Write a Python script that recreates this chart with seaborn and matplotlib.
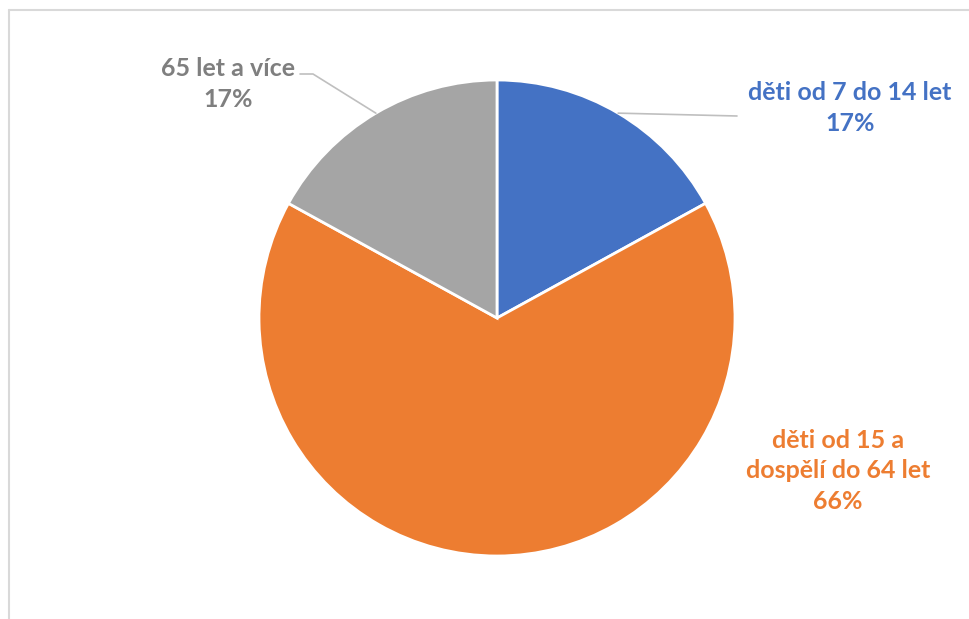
import numpy as np
import matplotlib.pyplot as plt
import seaborn as sns
from matplotlib.lines import Line2D

labels = ['děti od 7 do 14 let', 'děti od 15 a\ndospělí do 64 let', '65 let a více']
shares = [17, 66, 17]
colors = ['#4472C4', '#ED7D31', '#A5A5A5']
text_colors = ['#4472C4', '#ED7D31', '#7F7F7F']

sns.set_theme(style='white')
plt.rcParams['font.family'] = ['Lato', 'DejaVu Sans']

W, H = 970, 619
fig = plt.figure(figsize=(W / 100, H / 100), dpi=100)
ax = fig.add_axes([0, 0, 1, 1])

# pie in pixel coords (y up)
cx, cy, r = 497, H - 318, 238
wedges, _ = ax.pie(shares, colors=colors, startangle=90, counterclock=False,
                   center=(cx, cy), radius=r, frame=True,
                   wedgeprops=dict(edgecolor='white', linewidth=2))
ax.set_xlim(0, W)
ax.set_ylim(0, H)
ax.set_aspect('equal')
ax.axis('off')

def edge_point(w):
    ang = np.deg2rad((w.theta1 + w.theta2) / 2)
    return cx + r * np.cos(ang), cy + r * np.sin(ang)

# label positions (pixels, y from top)
text_pos = [(850, 108), (838, 471), (228, 84)]
for w, lab, s, c, (tx, ty) in zip(wedges, labels, shares, text_colors, text_pos):
    ax.text(tx, H - ty, f'{lab}\n{s}%', color=c, fontsize=18, fontweight='bold',
            ha='center', va='center', linespacing=1.42)

# leader lines
ex, ey = edge_point(wedges[0])
ax.plot([ex, 737], [ey, H - 116], color='#BFBFBF', lw=1.2)
ex, ey = edge_point(wedges[2])
ax.plot([ex, 313, 300], [ey, H - 74, H - 74], color='#BFBFBF', lw=1.2)

# chart frame (top and left only visible)
fig.add_artist(Line2D([9.5 / W, 1], [1 - 9.5 / H, 1 - 9.5 / H], transform=fig.transFigure,
                      color='#D9D9D9', lw=1.5))
fig.add_artist(Line2D([9.5 / W, 9.5 / W], [0, 1 - 9.5 / H], transform=fig.transFigure,
                      color='#D9D9D9', lw=1.5))

fig.savefig('out.png', dpi=100, facecolor='white')
